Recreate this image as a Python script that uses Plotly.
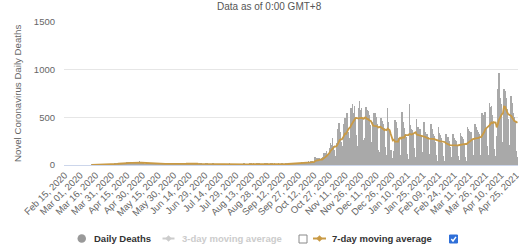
import pandas as pd
import plotly.graph_objects as go

# Daily deaths, month by month (first category: Feb 15, 2020)
feb_2020 = [0, 0, 0, 0, 0, 0, 0, 0, 0, 0, 0, 0, 0, 0, 0]
mar_2020 = [0, 0, 0, 0, 0, 0, 0, 0, 0, 0, 0,
            1, 1, 1, 0, 1, 1, 0, 1, 1, 0, 2, 2, 1, 3, 2, 2, 2, 1, 5, 6]
apr_2020 = [5, 9, 14, 13, 12, 17, 23, 15, 18, 15, 19, 8, 26, 25, 30,
            15, 28, 16, 20, 25, 33, 27, 24, 13, 12, 28, 40, 20, 28, 20]
may_2020 = [12, 10, 6, 18, 17, 22, 16, 12, 18, 6, 6, 12, 25, 15, 13,
            9, 6, 10, 14, 18, 13, 18, 7, 4, 18, 14, 21, 11, 12, 8, 10]
jun_2020 = [10, 12, 14, 8, 11, 10, 7, 8, 21, 24, 12, 17, 14, 6, 10,
            15, 18, 16, 12, 9, 8, 13, 8, 16, 16, 11, 8, 5, 6, 12]
jul_2020 = [12, 10, 8, 4, 2, 6, 13, 6, 8, 7, 7, 3, 4, 9, 6,
            7, 9, 6, 8, 3, 6, 8, 12, 3, 9, 4, 4, 9, 7, 8, 7]
aug_2020 = [5, 9, 3, 3, 9, 12, 9, 10, 5, 3, 11, 11, 15, 10, 12,
            4, 4, 15, 18, 12, 8, 9, 4, 9, 8, 15, 15, 14, 7, 4, 10]
sep_2020 = [11, 12, 9, 12, 6, 2, 5, 14, 9, 10, 11, 14, 4, 3, 17,
            12, 13, 15, 4, 7, 7, 16, 25, 14, 13, 14, 9, 14, 13, 32]
oct_2020 = [22, 24, 21, 22, 16, 27, 45, 21, 39, 40, 26, 16, 89, 49, 75,
            53, 76, 48, 25, 78, 89, 130, 130, 142, 110, 102, 179, 236, 205, 280, 202]
nov_2020 = [157, 92, 227, 373, 445, 350, 240, 161, 199, 426, 492, 419, 548, 349, 279,
            247, 603, 637, 546, 615, 502, 311, 199, 603, 674, 574, 599, 478, 266, 284]
dec_2020 = [609, 575, 567, 525, 416, 240, 125, 456, 546, 545, 502, 427, 160, 136, 489,
            493, 463, 431, 388, 188, 106, 602, 450, 380, 160, 70, 40, 150, 470, 450, 390]
jan_2021 = [150, 280, 110, 80, 560, 450, 390, 330, 290, 120, 60, 640, 420, 380, 370,
            330, 180, 80, 480, 400, 360, 380, 310, 140, 70, 450, 350, 330, 320, 290, 120]
feb_2021 = [70, 430, 380, 320, 300, 240, 110, 40, 400, 340, 310, 280, 230, 90,
            40, 320, 280, 290, 250, 190, 80, 30, 330, 280, 260, 250, 210, 90]
mar_2021 = [50, 340, 300, 290, 270, 220, 80, 40, 400, 380, 360, 350, 270, 100, 60,
            430, 400, 370, 350, 320, 110, 70, 550, 500, 520, 560, 380, 200, 100, 650, 610]
apr_2021 = [620, 520, 450, 170, 90, 300, 800, 960, 700, 640, 240, 150, 800, 780, 700,
            590, 480, 210, 120, 720, 650, 550, 500, 450, 150, 80]

daily_deaths = (feb_2020 + mar_2020 + apr_2020 + may_2020 + jun_2020 + jul_2020 +
                aug_2020 + sep_2020 + oct_2020 + nov_2020 + dec_2020 + jan_2021 +
                feb_2021 + mar_2021 + apr_2021)

start_date = "2020-02-15"
tick_dates = pd.date_range("2020-02-15", "2021-04-25", freq="15D")
y_ticks = [0, 500, 1000, 1500]

dates = pd.date_range(start_date, periods=len(daily_deaths), freq="D")
s = pd.Series(daily_deaths, index=dates, dtype=float)
ma7 = s.rolling(7, min_periods=1).mean()
first = next(i for i, v in enumerate(daily_deaths) if v > 0)
ma7.iloc[:first] = None

FONT = "Liberation Sans, Arial, sans-serif"
LINE_COL = "#c99a45"
BAR_COL = "#a9a9a9"

fig = go.Figure()
fig.add_trace(go.Bar(x=dates, y=daily_deaths, name="Daily Deaths",
                     marker=dict(color=BAR_COL, line=dict(width=0)),
                     width=0.55 * 86400000))
fig.add_trace(go.Scatter(x=dates, y=ma7, name="7-day moving average", mode="lines",
                         line=dict(color=LINE_COL, width=1.8)))

L, T, W, H = 64, 22, 454, 143
FW, FH = 519, 247


def px(x):
    return (x - L) / W


def py(y):
    return (T + H - y) / H


fig.update_layout(
    width=FW, height=FH,
    margin=dict(l=L, r=FW - L - W, t=T, b=FH - T - H, autoexpand=False),
    paper_bgcolor="white", plot_bgcolor="white",
    showlegend=False, bargap=0,
    font=dict(family=FONT, size=9.5, color="#666666"),
)
fig.update_xaxes(
    type="date", automargin=False, ticklabeloverflow="allow",
    range=[dates[0] - pd.Timedelta(hours=12), dates[-1] + pd.Timedelta(hours=12)],
    tickvals=list(tick_dates),
    ticktext=[d.strftime("%b %d, %Y") for d in tick_dates],
    tickangle=-45, showgrid=False, showline=True, linecolor="#ccd6eb", linewidth=1,
    ticks="", tickfont=dict(size=9.5, color="#666666"),
)
fig.update_yaxes(
    range=[0, 1500], tickvals=y_ticks, showgrid=True, gridcolor="#e6e6e6",
    zeroline=False, showline=False, ticks="", ticklabelstandoff=8, automargin=False,
    tickfont=dict(size=9.5, color="#666666"),
)

ann = []
ann.append(dict(text="Data as of 0:00 GMT+8", x=px(269), y=py(6), xref="paper", yref="paper",
                xanchor="center", yanchor="middle", showarrow=False,
                font=dict(size=10, color="#555555")))
ann.append(dict(text="Novel Coronavirus Daily Deaths", x=px(17), y=py(94), xref="paper",
                yref="paper", xanchor="center", yanchor="middle", textangle=-90,
                showarrow=False, font=dict(size=9.7, color="#666666")))
ly = 238.5
ann.append(dict(text="<b>Daily Deaths</b>", x=px(92), y=py(ly), xref="paper", yref="paper",
                xanchor="left", yanchor="middle", showarrow=False,
                font=dict(size=9.5, color="#333333")))
ann.append(dict(text="<b>3-day moving average</b>", x=px(179.5), y=py(ly), xref="paper",
                yref="paper", xanchor="left", yanchor="middle", showarrow=False,
                font=dict(size=9.5, color="#cccccc")))
ann.append(dict(text="<b>7-day moving average</b>", x=px(329.5), y=py(ly), xref="paper",
                yref="paper", xanchor="left", yanchor="middle", showarrow=False,
                font=dict(size=9.5, color="#333333")))


def diamond(cx, cy, r):
    return (f"M {px(cx)} {py(cy - r)} L {px(cx + r)} {py(cy)} "
            f"L {px(cx)} {py(cy + r)} L {px(cx - r)} {py(cy)} Z")


shapes = [
    dict(type="circle", xref="paper", yref="paper", x0=px(77.5), x1=px(86), y0=py(242.7),
         y1=py(234.2), fillcolor="#999999", line=dict(width=0)),
    dict(type="line", xref="paper", yref="paper", x0=px(162.5), x1=px(174.5), y0=py(ly),
         y1=py(ly), line=dict(color="#cccccc", width=2)),
    dict(type="path", xref="paper", yref="paper", path=diamond(168.5, ly, 3.2),
         fillcolor="#cccccc", line=dict(width=0)),
    dict(type="rect", xref="paper", yref="paper", x0=px(299), x1=px(307), y0=py(243),
         y1=py(235), fillcolor="white", line=dict(color="#8a8a8a", width=1)),
    dict(type="line", xref="paper", yref="paper", x0=px(313), x1=px(326), y0=py(ly),
         y1=py(ly), line=dict(color=LINE_COL, width=2)),
    dict(type="path", xref="paper", yref="paper", path=diamond(319.5, ly, 3.2),
         fillcolor=LINE_COL, line=dict(width=0)),
    dict(type="rect", xref="paper", yref="paper", x0=px(449.5), x1=px(457.5), y0=py(243),
         y1=py(235), fillcolor="#2f6fd8", line=dict(color="#2f6fd8", width=1)),
    dict(type="path", xref="paper", yref="paper",
         path=f"M {px(451.3)} {py(239)} L {px(453)} {py(241)} L {px(456)} {py(236.8)}",
         line=dict(color="white", width=1.4)),
]
fig.update_layout(annotations=ann, shapes=shapes)

fig.write_html(
    "out.html",
    config={"displayModeBar": False},
    post_script="document.body.style.margin='0';document.body.style.overflow='hidden';",
)
